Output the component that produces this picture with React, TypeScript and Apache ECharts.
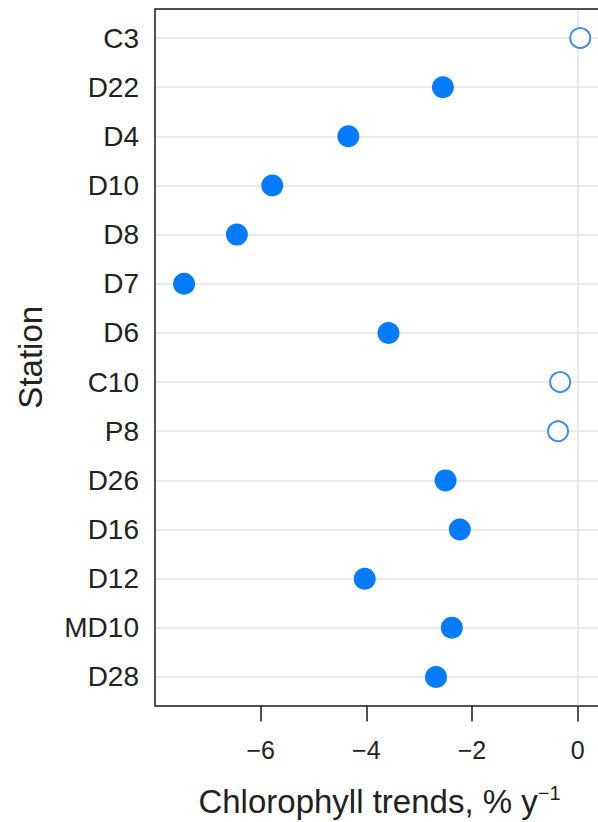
import React, { useEffect, useRef } from "react";
import * as echarts from "echarts";

const stations = ["C3", "D22", "D4", "D10", "D8", "D7", "D6", "C10", "P8", "D26", "D16", "D12", "MD10", "D28"];
const trends = [0.05, -2.55, -4.34, -5.78, -6.45, -7.45, -3.58, -0.33, -0.37, -2.5, -2.23, -4.03, -2.38, -2.68];
const significant = [false, true, true, true, true, true, true, false, false, true, true, true, true, true];
const xTicks = [-6, -4, -2, 0];
const rowIndex = stations.map((_, i) => i);
const yMin = -0.59;
const yMax = 13.58;

const FONT = "Liberation Sans, Arial, sans-serif";

export default function App() {
  const ref = useRef<HTMLDivElement>(null);
  useEffect(() => {
    const chart = echarts.init(ref.current!, null, { renderer: "svg" });
    const filled = trends.map((v, i) => (significant[i] ? [v, i] : null)).filter(Boolean);
    const open = trends.map((v, i) => (!significant[i] ? [v, i] : null)).filter(Boolean);
    chart.setOption({
      animation: false,
      backgroundColor: "#ffffff",
      grid: { left: 155, width: 449, top: 9, height: 696.5, containLabel: false, outerBoundsMode: "none" },
      xAxis: {
        type: "value",
        position: "bottom",
        min: -8,
        max: 0.5,
        axisLine: { show: true, onZero: false, lineStyle: { color: "#1a1a1a", width: 1.5 } },
        axisTick: { show: true, length: 16, customValues: xTicks, lineStyle: { color: "#1a1a1a", width: 1.5 } },
        axisLabel: {
          customValues: xTicks,
          margin: 32,
          fontFamily: FONT,
          fontSize: 25,
          color: "#222",
          formatter: (v: number) => (v < 0 ? "\u2212" + Math.abs(v) : String(v)),
        },
        splitLine: { show: false },
        name: "Chlorophyll trends, % y{sup|\u22121}",
        nameLocation: "middle",
        nameGap: 77,
        nameTextStyle: {
          fontFamily: FONT,
          fontSize: 33,
          lineHeight: 38,
          color: "#222",
          rich: { sup: { fontFamily: FONT, fontSize: 20, lineHeight: 15, color: "#222", verticalAlign: "top" } },
        },
      },
      yAxis: {
        type: "value",
        inverse: true,
        min: yMin,
        max: yMax,
        axisLine: { show: true, onZero: false, lineStyle: { color: "#1a1a1a", width: 1.5 } },
        axisTick: { show: false, customValues: rowIndex },
        axisLabel: {
          customValues: rowIndex,
          margin: 16,
          fontFamily: FONT,
          fontSize: 28,
          color: "#222",
          formatter: (v: number) => stations[Math.round(v)] ?? "",
        },
        splitLine: { show: true, lineStyle: { color: "#e3e3e3", width: 1.5 } },
        name: "Station",
        nameLocation: "middle",
        nameGap: 108,
        nameTextStyle: { fontFamily: FONT, fontSize: 33, color: "#222" },
      },
      series: [
        {
          type: "scatter",
          data: filled,
          symbol: "circle",
          symbolSize: 22,
          itemStyle: { color: "#037bff", opacity: 1 },
          z: 3,
          markLine: {
            silent: true,
            symbol: "none",
            label: { show: false },
            lineStyle: { color: "#e3e3e3", width: 1.5, type: "solid" },
            data: [{ xAxis: 0 }],
            z: 1,
          },
        },
        {
          type: "scatter",
          data: open,
          symbol: "circle",
          symbolSize: 20,
          itemStyle: { color: "#ffffff", borderColor: "#3f8cf5", borderWidth: 2, opacity: 1 },
          z: 3,
          markLine: {
            silent: true,
            symbol: "none",
            label: { show: false },
            lineStyle: { color: "#1a1a1a", width: 1.5, type: "solid" },
            data: [{ yAxis: yMin }],
            z: 5,
          },
        },
      ],
    });
    return () => chart.dispose();
  }, []);
  return <div ref={ref} style={{ position: "absolute", left: 0, top: 0, width: 598, height: 822 }} />;
}
